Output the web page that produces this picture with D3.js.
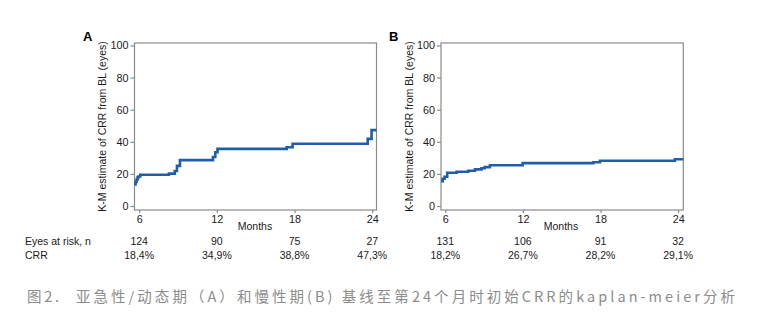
<!DOCTYPE html>
<html>
<head>
<meta charset="utf-8">
<script src="https://cdn.jsdelivr.net/npm/d3@7"></script>
<style>
  html, body { margin: 0; padding: 0; background: #fff; }
  svg { display: block; }
</style>
</head>
<body>
<svg id="chart" width="766" height="321"></svg>
<script>
// ---- data ----
const xTicks = [6, 12, 18, 24];
const yTicks = [0, 20, 40, 60, 80, 100];

// Panel A: subacute / active phase (months, K-M estimate %)
const monthsA = [5.64, 5.72, 5.8, 5.88, 5.96, 6.08, 8.3, 8.75, 8.92, 9.15, 11.7, 11.88, 12.05, 17.4, 17.85, 23.65, 23.95, 24.33];
const valuesA = [13.5, 15.0, 16.5, 18.0, 18.4, 19.5, 20.2, 21.8, 25.0, 28.6, 30.5, 33.5, 35.6, 36.6, 38.8, 41.8, 47.3, 47.3];
const riskA = ["124", "90", "75", "27"];
const crrA = ["18,4%", "34,9%", "38,8%", "47,3%"];

// Panel B: chronic phase
const monthsB = [5.67, 5.8, 5.95, 6.15, 6.88, 7.78, 8.3, 8.8, 9.05, 9.45, 11.98, 17.44, 17.96, 23.75, 24.4];
const valuesB = [15.5, 17.0, 18.2, 20.7, 21.3, 22.0, 22.8, 23.5, 24.2, 25.4, 26.7, 27.3, 28.2, 29.1, 29.1];
const riskB = ["131", "106", "91", "32"];
const crrB = ["18,2%", "26,7%", "28,2%", "29,1%"];

const panelLabels = ["A", "B"];
const yLabel = "K-M estimate of CRR from BL (eyes)";
const xLabel = "Months";
const rowLabels = ["Eyes at risk, n", "CRR"];
const captionHead = "图2.";
const captionBody = "亚急性/动态期（A）和慢性期(B) 基线至第24个月时初始CRR的kaplan-meier分析";

// ---- drawing ----
const svg = d3.select("#chart");
const font = "'Liberation Sans', Arial, Helvetica, sans-serif";
const frameColor = "#8a8a8a";
const textColor = "#1a1a1a";
const lineColor = "#1f5ea8";

const panels = [
  { months: monthsA, values: valuesA, risk: riskA, crr: crrA, label: panelLabels[0],
    xDomain: [5.64, 24.33], xRange: [134.5, 376.5], labelX: 83, yLabelX: 106, monthsX: 255 },
  { months: monthsB, values: valuesB, risk: riskB, crr: crrB, label: panelLabels[1],
    xDomain: [5.67, 24.4], xRange: [441, 683.3], labelX: 389, yLabelX: 413, monthsX: 561 }
];

const frameTop = 43, frameBottom = 210;

panels.forEach(p => {
  const x = d3.scaleLinear().domain(p.xDomain).range(p.xRange);
  const y = d3.scaleLinear().domain([0, 100]).range([206, 45.5]);
  const g = svg.append("g");

  g.append("rect")
    .attr("x", p.xRange[0]).attr("y", frameTop)
    .attr("width", p.xRange[1] - p.xRange[0]).attr("height", frameBottom - frameTop)
    .attr("fill", "none").attr("stroke", frameColor).attr("stroke-width", 1.2);

  const yAxis = g.append("g")
    .attr("transform", `translate(${p.xRange[0]},0)`)
    .call(d3.axisLeft(y).tickValues(yTicks).tickSize(4).tickPadding(2));
  yAxis.select(".domain").remove();
  yAxis.selectAll("line").attr("stroke", frameColor).attr("stroke-width", 1.2);
  yAxis.selectAll("text").attr("font-family", font).attr("font-size", 10.8).attr("fill", textColor);

  const xAxis = g.append("g")
    .attr("transform", `translate(0,${frameBottom})`)
    .call(d3.axisBottom(x).tickValues(xTicks).tickSize(3).tickPadding(2));
  xAxis.select(".domain").remove();
  xAxis.selectAll("line").attr("stroke", frameColor).attr("stroke-width", 1.2);
  xAxis.selectAll("text").attr("font-family", font).attr("font-size", 10.8).attr("fill", textColor);

  const pts = p.months.map((m, i) => [m, p.values[i]]);
  const line = d3.line().x(d => x(d[0])).y(d => y(d[1])).curve(d3.curveStepAfter);
  g.append("path").datum(pts)
    .attr("d", line).attr("fill", "none")
    .attr("stroke", lineColor).attr("stroke-width", 2.6)
    .attr("stroke-linejoin", "miter");

  g.append("text").attr("x", p.labelX).attr("y", 41)
    .attr("font-family", font).attr("font-weight", "bold").attr("font-size", 13)
    .attr("fill", "#000").text(p.label);

  g.append("text")
    .attr("transform", `translate(${p.yLabelX},${(frameTop + frameBottom) / 2}) rotate(-90)`)
    .attr("text-anchor", "middle")
    .attr("font-family", font).attr("font-size", 10.5).attr("fill", textColor)
    .text(yLabel);

  g.append("text").attr("x", p.monthsX).attr("y", 230)
    .attr("text-anchor", "middle")
    .attr("font-family", font).attr("font-size", 10.5).attr("fill", textColor)
    .text(xLabel);

  xTicks.forEach((t, i) => {
    g.append("text").attr("x", x(t)).attr("y", 245)
      .attr("text-anchor", "middle")
      .attr("font-family", font).attr("font-size", 10.5).attr("fill", textColor)
      .text(p.risk[i]);
    g.append("text").attr("x", x(t)).attr("y", 259)
      .attr("text-anchor", "middle")
      .attr("font-family", font).attr("font-size", 10.5).attr("fill", textColor)
      .text(p.crr[i]);
  });
});

rowLabels.forEach((r, i) => {
  svg.append("text").attr("x", 25).attr("y", 245 + i * 14)
    .attr("font-family", font).attr("font-size", 10.5).attr("fill", textColor)
    .text(r);
});

// caption
const capFont = "'Noto Sans CJK SC', 'Noto Sans', sans-serif";
svg.append("text").attr("x", 27).attr("y", 302)
  .attr("font-family", capFont).attr("font-size", 14.5).attr("fill", "#8c8c8c")
  .attr("textLength", 32).attr("lengthAdjust", "spacing")
  .text(captionHead);
svg.append("text").attr("x", 76).attr("y", 302)
  .attr("font-family", capFont).attr("font-size", 14.5).attr("fill", "#8c8c8c")
  .attr("textLength", 659).attr("lengthAdjust", "spacing")
  .text(captionBody);
</script>
</body>
</html>
